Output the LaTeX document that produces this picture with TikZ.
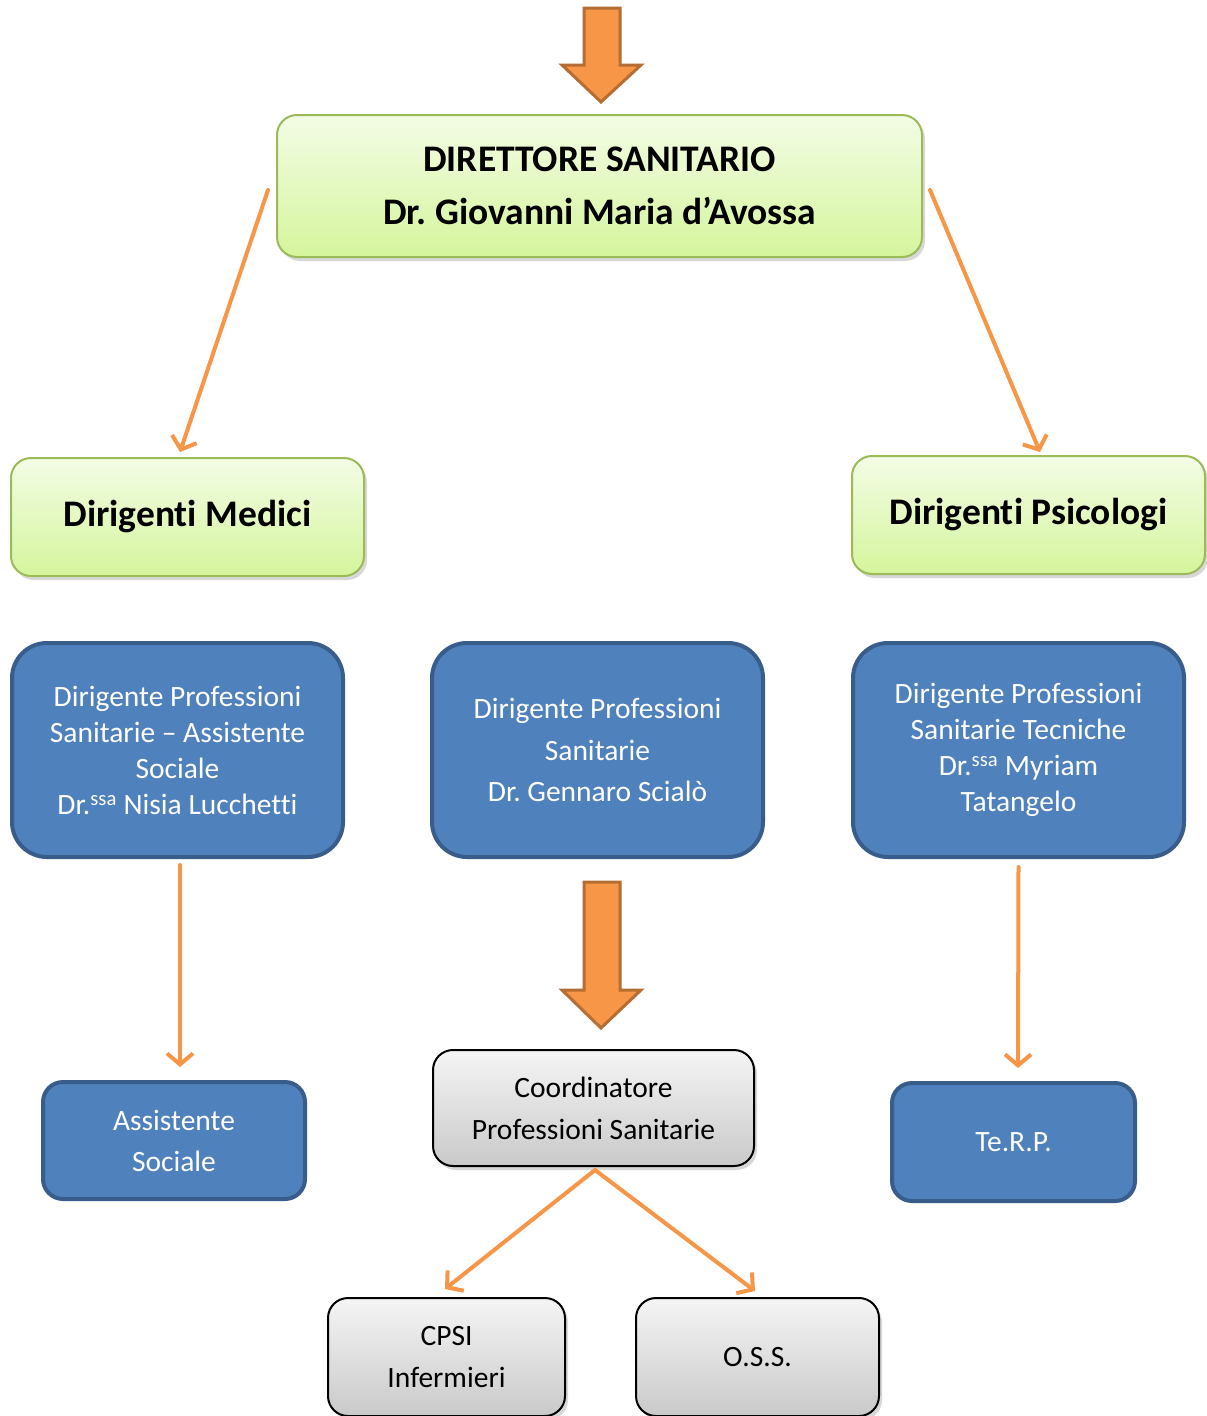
\documentclass[tikz,border=0pt]{standalone}
\usepackage{fontspec}
\setmainfont{Carlito}[Ligatures=NoCommon]
\usetikzlibrary{arrows.meta, shadows}

\definecolor{orangeA}{HTML}{F79646}
\definecolor{orangeB}{HTML}{B66D31}
\definecolor{greenT}{HTML}{F3FCE6}
\definecolor{greenB}{HTML}{D5F59C}
\definecolor{greenD}{HTML}{9BBB59}
\definecolor{blueF}{HTML}{4F81BD}
\definecolor{blueD}{HTML}{385D8A}

\tikzset{
  greenbox/.style={rounded corners=20pt, draw=greenD, line width=2pt,
    top color=greenT, bottom color=greenB, align=center,
    drop shadow={shadow xshift=3pt, shadow yshift=-4pt, opacity=0.3},
    font=\fontsize{37.5}{53}\selectfont\bfseries},
  bluebox/.style={rounded corners=35pt, fill=blueF, draw=blueD, line width=4pt,
    text=white, align=center, font=\fontsize{29.5}{36}\selectfont},
  graybox/.style={rounded corners=20pt, draw=black, line width=2pt,
    top color=gray!8, bottom color=gray!42, align=center,
    drop shadow={shadow xshift=3pt, shadow yshift=-4pt, opacity=0.3},
    font=\fontsize{29.5}{42}\selectfont},
  link/.style={draw=orangeA, line width=4pt, line cap=round,
    -{Straight Barb[length=11pt, width=26pt, line width=4pt]}},
  blockarrow/.style={fill=orangeA, draw=orangeB, line width=3pt}
}

\begin{document}
\frenchspacing
\begin{tikzpicture}[x=1pt, y=-1pt]
      % Frame
      \path[use as bounding box, fill=white] (0,0) rectangle (1207,1416);

      % Top level
      \draw[blockarrow] (584,8) -- (620,8) -- (620,65) -- (641,65) -- (601,102)
        -- (562,65) -- (584,65) -- cycle;
      \node[greenbox, minimum width=645pt, minimum height=142pt] (direttore) at (599.5,186)
        {DIRETTORE SANITARIO\\Dr. Giovanni Maria d’Avossa};

      % Dirigenti
      \node[greenbox, minimum width=353pt, minimum height=118pt] (medici) at (187.5,517)
        {Dirigenti Medici};
      \node[greenbox, minimum width=353pt, minimum height=118pt] (psicologi) at (1028.5,515)
        {Dirigenti Psicologi};
      \draw[link] ([shift={(-8,4)}]direttore.west) -- ([shift={(-7.5,-5)}]medici.north);
      \draw[link] ([shift={(7,4)}]direttore.east) -- ([shift={(11.5,-3)}]psicologi.north);

      % Dirigenti Professioni
      \node[bluebox, minimum width=331pt, minimum height=214pt] (dpsociale) at (177.5,750)
        {Dirigente Professioni\\Sanitarie – Assistente\\Sociale\\Dr.\textsuperscript{ssa} Nisia Lucchetti};
      \node[bluebox, minimum width=331pt, minimum height=214pt,
        font=\fontsize{29.5}{41.5}\selectfont] (dpsanitarie) at (597.5,750)
        {Dirigente Professioni\\Sanitarie\\Dr. Gennaro Scialò};
      \node[bluebox, minimum width=331pt, minimum height=214pt] (dptecniche) at (1018.5,750)
        {Dirigente Professioni\\Sanitarie Tecniche\\Dr.\textsuperscript{ssa} Myriam\\Tatangelo};

      % Third level
      \node[bluebox, rounded corners=20pt, minimum width=262pt, minimum height=117pt,
        font=\fontsize{29.5}{41}\selectfont] (assistente) at (174,1140.5) {Assistente\\Sociale};
      \node[graybox, minimum width=321pt, minimum height=116pt] (coord) at (593.5,1108)
        {Coordinatore\\Professioni Sanitarie};
      \node[bluebox, rounded corners=20pt, minimum width=243pt, minimum height=118pt] (terp)
        at (1013.5,1142) {Te.R.P.};
      \draw[link] ([shift={(2.5,6)}]dpsociale.south) -- ([shift={(6,-13)}]assistente.north);
      \draw[link] ([shift={(0,8)}]dptecniche.south) -- ([shift={(4.5,-13)}]terp.north);
      \draw[blockarrow] (584,882) -- (620,882) -- (620,990) -- (641,990) -- (601,1028)
        -- (562,990) -- (584,990) -- cycle;

      % Bottom level
      \node[graybox, minimum width=237pt, minimum height=118pt] (cpsi) at (446.5,1357)
        {CPSI\\Infermieri};
      \node[graybox, minimum width=243pt, minimum height=118pt] (oss) at (757.5,1357)
        {O.S.S.};
      \draw[link] ([shift={(1.5,3)}]coord.south) -- ([shift={(-1.5,-8)}]cpsi.north);
      \draw[link] ([shift={(1.5,3)}]coord.south) -- ([shift={(-2.5,-6)}]oss.north);
\end{tikzpicture}
\end{document}
